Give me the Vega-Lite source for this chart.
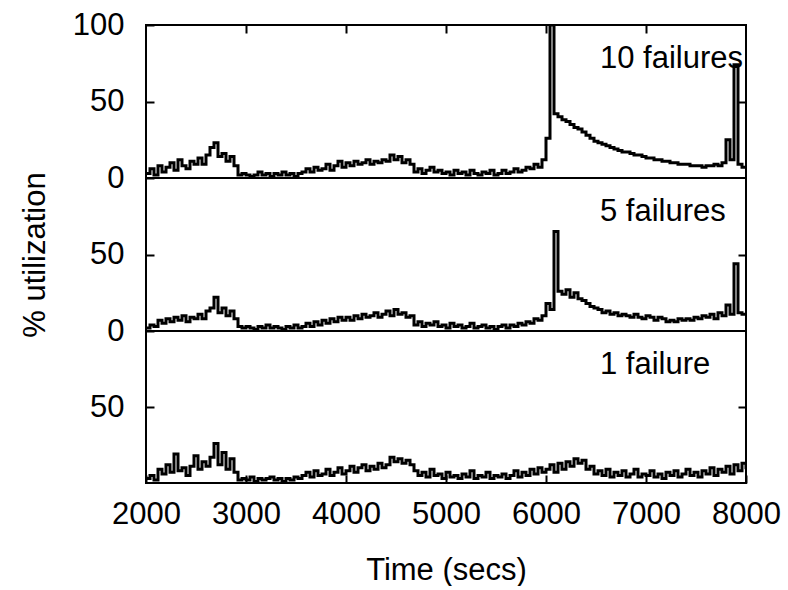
{
"$schema": "https://vega.github.io/schema/vega-lite/v6.json",
"padding": {"left": 18, "top": 8, "right": 0, "bottom": 0},
"background": "white",
"spacing": 0,
"bounds": "flush",
"datasets": {
"f10": [
{"t":2000,"u":3},{"t":2040,"u":6},{"t":2080,"u":2},{"t":2120,"u":8},{"t":2160,"u":4},{"t":2200,"u":7},{"t":2240,"u":10},{"t":2280,"u":5},{"t":2320,"u":12},{"t":2360,"u":8},{"t":2400,"u":6},{"t":2440,"u":11},{"t":2480,"u":9},
{"t":2520,"u":13},{"t":2560,"u":9},{"t":2600,"u":15},{"t":2640,"u":20},{"t":2680,"u":23},{"t":2720,"u":14},{"t":2760,"u":16},{"t":2800,"u":11},{"t":2840,"u":14},{"t":2880,"u":8},
{"t":2920,"u":2},{"t":2960,"u":3},{"t":3000,"u":2},{"t":3040,"u":1},{"t":3080,"u":2},{"t":3120,"u":4},{"t":3160,"u":2},{"t":3200,"u":3},{"t":3240,"u":1},{"t":3280,"u":3},{"t":3320,"u":2},{"t":3360,"u":4},{"t":3400,"u":2},{"t":3440,"u":3},{"t":3480,"u":1},{"t":3520,"u":3},{"t":3560,"u":4},
{"t":3600,"u":6},{"t":3640,"u":4},{"t":3680,"u":7},{"t":3720,"u":5},{"t":3760,"u":6},{"t":3800,"u":9},{"t":3840,"u":5},{"t":3880,"u":8},{"t":3920,"u":11},{"t":3960,"u":7},
{"t":4000,"u":10},{"t":4040,"u":8},{"t":4080,"u":11},{"t":4120,"u":9},{"t":4160,"u":10},{"t":4200,"u":12},{"t":4240,"u":9},{"t":4280,"u":11},{"t":4320,"u":10},{"t":4360,"u":12},{"t":4400,"u":11},{"t":4440,"u":15},{"t":4480,"u":12},{"t":4520,"u":14},{"t":4560,"u":10},{"t":4600,"u":12},{"t":4640,"u":9},
{"t":4680,"u":4},{"t":4720,"u":6},{"t":4760,"u":3},{"t":4800,"u":5},{"t":4840,"u":7},{"t":4880,"u":4},{"t":4920,"u":5},{"t":4960,"u":3},{"t":5000,"u":4},{"t":5040,"u":2},{"t":5080,"u":5},{"t":5120,"u":3},{"t":5160,"u":4},{"t":5200,"u":2},{"t":5240,"u":5},{"t":5280,"u":3},{"t":5320,"u":2},{"t":5360,"u":4},{"t":5400,"u":3},{"t":5440,"u":5},{"t":5480,"u":2},{"t":5520,"u":3},{"t":5560,"u":5},{"t":5600,"u":3},{"t":5640,"u":4},{"t":5680,"u":6},{"t":5720,"u":4},{"t":5760,"u":5},{"t":5800,"u":7},{"t":5840,"u":6},{"t":5880,"u":9},{"t":5920,"u":7},{"t":5960,"u":12},
{"t":6000,"u":26},{"t":6040,"u":100},{"t":6080,"u":42},{"t":6120,"u":40},{"t":6160,"u":38},{"t":6200,"u":37},{"t":6240,"u":35},{"t":6280,"u":33},{"t":6320,"u":32},{"t":6360,"u":30},
{"t":6400,"u":28},{"t":6440,"u":26},{"t":6480,"u":24},{"t":6520,"u":23},{"t":6560,"u":22},{"t":6600,"u":21},{"t":6640,"u":20},{"t":6680,"u":19},{"t":6720,"u":18},{"t":6760,"u":17},
{"t":6800,"u":17},{"t":6840,"u":16},{"t":6880,"u":15},{"t":6920,"u":15},{"t":6960,"u":14},{"t":7000,"u":13},{"t":7040,"u":13},{"t":7080,"u":12},{"t":7120,"u":12},{"t":7160,"u":11},
{"t":7200,"u":11},{"t":7240,"u":10},{"t":7280,"u":10},{"t":7320,"u":9},{"t":7360,"u":9},{"t":7400,"u":9},{"t":7440,"u":8},{"t":7480,"u":8},{"t":7520,"u":8},{"t":7560,"u":7},
{"t":7600,"u":8},{"t":7640,"u":8},{"t":7680,"u":9},{"t":7720,"u":8},{"t":7760,"u":10},{"t":7800,"u":25},{"t":7840,"u":12},{"t":7880,"u":74},{"t":7920,"u":9},{"t":7960,"u":7},{"t":8000,"u":8}
],
"f5": [
{"t":2000,"u":2},{"t":2040,"u":4},{"t":2080,"u":3},{"t":2120,"u":7},{"t":2160,"u":5},{"t":2200,"u":8},{"t":2240,"u":6},{"t":2280,"u":9},{"t":2320,"u":7},{"t":2360,"u":10},{"t":2400,"u":6},{"t":2440,"u":9},{"t":2480,"u":8},
{"t":2520,"u":11},{"t":2560,"u":8},{"t":2600,"u":13},{"t":2640,"u":15},{"t":2680,"u":22},{"t":2720,"u":12},{"t":2760,"u":15},{"t":2800,"u":10},{"t":2840,"u":13},{"t":2880,"u":8},
{"t":2920,"u":3},{"t":2960,"u":2},{"t":3000,"u":3},{"t":3040,"u":2},{"t":3080,"u":1},{"t":3120,"u":3},{"t":3160,"u":2},{"t":3200,"u":4},{"t":3240,"u":2},{"t":3280,"u":3},{"t":3320,"u":2},{"t":3360,"u":1},{"t":3400,"u":3},{"t":3440,"u":2},{"t":3480,"u":4},{"t":3520,"u":2},{"t":3560,"u":3},
{"t":3600,"u":5},{"t":3640,"u":3},{"t":3680,"u":6},{"t":3720,"u":4},{"t":3760,"u":7},{"t":3800,"u":5},{"t":3840,"u":8},{"t":3880,"u":6},{"t":3920,"u":9},{"t":3960,"u":7},
{"t":4000,"u":9},{"t":4040,"u":7},{"t":4080,"u":10},{"t":4120,"u":8},{"t":4160,"u":11},{"t":4200,"u":9},{"t":4240,"u":10},{"t":4280,"u":12},{"t":4320,"u":9},{"t":4360,"u":11},{"t":4400,"u":13},{"t":4440,"u":10},{"t":4480,"u":14},{"t":4520,"u":11},{"t":4560,"u":12},{"t":4600,"u":9},{"t":4640,"u":10},
{"t":4680,"u":4},{"t":4720,"u":6},{"t":4760,"u":3},{"t":4800,"u":5},{"t":4840,"u":4},{"t":4880,"u":6},{"t":4920,"u":3},{"t":4960,"u":4},{"t":5000,"u":2},{"t":5040,"u":5},{"t":5080,"u":3},{"t":5120,"u":4},{"t":5160,"u":2},{"t":5200,"u":3},{"t":5240,"u":5},{"t":5280,"u":2},{"t":5320,"u":3},{"t":5360,"u":4},{"t":5400,"u":2},{"t":5440,"u":3},{"t":5480,"u":1},{"t":5520,"u":3},{"t":5560,"u":4},{"t":5600,"u":2},{"t":5640,"u":4},{"t":5680,"u":3},{"t":5720,"u":5},{"t":5760,"u":4},{"t":5800,"u":6},{"t":5840,"u":5},{"t":5880,"u":8},{"t":5920,"u":7},{"t":5960,"u":10},
{"t":6000,"u":18},{"t":6040,"u":14},{"t":6080,"u":65},{"t":6120,"u":26},{"t":6160,"u":24},{"t":6200,"u":27},{"t":6240,"u":22},{"t":6280,"u":25},{"t":6320,"u":21},{"t":6360,"u":20},
{"t":6400,"u":18},{"t":6440,"u":16},{"t":6480,"u":15},{"t":6520,"u":14},{"t":6560,"u":12},{"t":6600,"u":13},{"t":6640,"u":11},{"t":6680,"u":12},{"t":6720,"u":10},{"t":6760,"u":11},
{"t":6800,"u":10},{"t":6840,"u":9},{"t":6880,"u":11},{"t":6920,"u":9},{"t":6960,"u":8},{"t":7000,"u":10},{"t":7040,"u":9},{"t":7080,"u":7},{"t":7120,"u":9},{"t":7160,"u":8},
{"t":7200,"u":6},{"t":7240,"u":7},{"t":7280,"u":6},{"t":7320,"u":8},{"t":7360,"u":7},{"t":7400,"u":8},{"t":7440,"u":7},{"t":7480,"u":9},{"t":7520,"u":8},{"t":7560,"u":10},
{"t":7600,"u":9},{"t":7640,"u":11},{"t":7680,"u":8},{"t":7720,"u":12},{"t":7760,"u":10},{"t":7800,"u":17},{"t":7840,"u":11},{"t":7880,"u":44},{"t":7920,"u":12},{"t":7960,"u":11},{"t":8000,"u":12}
],
"f1": [
{"t":2000,"u":3},{"t":2040,"u":5},{"t":2080,"u":2},{"t":2120,"u":9},{"t":2160,"u":6},{"t":2200,"u":12},{"t":2240,"u":7},{"t":2280,"u":19},{"t":2320,"u":8},{"t":2360,"u":10},{"t":2400,"u":5},{"t":2440,"u":11},{"t":2480,"u":18},
{"t":2520,"u":9},{"t":2560,"u":14},{"t":2600,"u":11},{"t":2640,"u":17},{"t":2680,"u":26},{"t":2720,"u":12},{"t":2760,"u":20},{"t":2800,"u":9},{"t":2840,"u":16},{"t":2880,"u":7},
{"t":2920,"u":2},{"t":2960,"u":3},{"t":3000,"u":2},{"t":3040,"u":4},{"t":3080,"u":1},{"t":3120,"u":3},{"t":3160,"u":2},{"t":3200,"u":3},{"t":3240,"u":4},{"t":3280,"u":2},{"t":3320,"u":3},{"t":3360,"u":1},{"t":3400,"u":3},{"t":3440,"u":2},{"t":3480,"u":4},{"t":3520,"u":3},{"t":3560,"u":5},
{"t":3600,"u":7},{"t":3640,"u":4},{"t":3680,"u":8},{"t":3720,"u":5},{"t":3760,"u":6},{"t":3800,"u":9},{"t":3840,"u":5},{"t":3880,"u":7},{"t":3920,"u":10},{"t":3960,"u":6},
{"t":4000,"u":8},{"t":4040,"u":11},{"t":4080,"u":7},{"t":4120,"u":10},{"t":4160,"u":12},{"t":4200,"u":8},{"t":4240,"u":11},{"t":4280,"u":9},{"t":4320,"u":13},{"t":4360,"u":10},{"t":4400,"u":12},{"t":4440,"u":17},{"t":4480,"u":14},{"t":4520,"u":16},{"t":4560,"u":13},{"t":4600,"u":15},{"t":4640,"u":12},
{"t":4680,"u":8},{"t":4720,"u":5},{"t":4760,"u":7},{"t":4800,"u":4},{"t":4840,"u":9},{"t":4880,"u":5},{"t":4920,"u":6},{"t":4960,"u":3},{"t":5000,"u":7},{"t":5040,"u":4},{"t":5080,"u":5},{"t":5120,"u":3},{"t":5160,"u":6},{"t":5200,"u":4},{"t":5240,"u":8},{"t":5280,"u":3},{"t":5320,"u":5},{"t":5360,"u":4},{"t":5400,"u":7},{"t":5440,"u":3},{"t":5480,"u":5},{"t":5520,"u":4},{"t":5560,"u":6},{"t":5600,"u":3},{"t":5640,"u":5},{"t":5680,"u":8},{"t":5720,"u":4},{"t":5760,"u":7},{"t":5800,"u":5},{"t":5840,"u":9},{"t":5880,"u":6},{"t":5920,"u":10},{"t":5960,"u":7},
{"t":6000,"u":9},{"t":6040,"u":12},{"t":6080,"u":7},{"t":6120,"u":13},{"t":6160,"u":9},{"t":6200,"u":14},{"t":6240,"u":11},{"t":6280,"u":16},{"t":6320,"u":13},{"t":6360,"u":15},
{"t":6400,"u":9},{"t":6440,"u":11},{"t":6480,"u":6},{"t":6520,"u":8},{"t":6560,"u":5},{"t":6600,"u":9},{"t":6640,"u":4},{"t":6680,"u":7},{"t":6720,"u":5},{"t":6760,"u":8},
{"t":6800,"u":4},{"t":6840,"u":6},{"t":6880,"u":9},{"t":6920,"u":4},{"t":6960,"u":6},{"t":7000,"u":5},{"t":7040,"u":8},{"t":7080,"u":4},{"t":7120,"u":6},{"t":7160,"u":3},
{"t":7200,"u":7},{"t":7240,"u":5},{"t":7280,"u":8},{"t":7320,"u":4},{"t":7360,"u":6},{"t":7400,"u":9},{"t":7440,"u":5},{"t":7480,"u":7},{"t":7520,"u":4},{"t":7560,"u":8},
{"t":7600,"u":6},{"t":7640,"u":10},{"t":7680,"u":5},{"t":7720,"u":9},{"t":7760,"u":7},{"t":7800,"u":11},{"t":7840,"u":6},{"t":7880,"u":12},{"t":7920,"u":8},{"t":7960,"u":13},{"t":8000,"u":9}
]
},
"vconcat": [
{
"width": 600, "height": 153,
"layer": [
{"data": {"name": "f10"},
 "mark": {"type": "line", "interpolate": "step-after", "color": "black", "strokeWidth": 3, "clip": true},
 "encoding": {
  "x": {"field": "t", "type": "quantitative", "scale": {"domain": [2000, 8000], "nice": false, "zero": false},
        "axis": {"orient": "top", "values": [3000, 4000, 5000, 6000, 7000], "labels": false, "title": null}},
  "y": {"field": "u", "type": "quantitative", "scale": {"domain": [0, 100], "nice": false},
        "axis": {"values": [0, 50, 100], "title": null, "labelPadding": 30}}
 }},
{"data": {"values": [{}]},
 "mark": {"type": "text", "text": "10 failures", "align": "left", "baseline": "alphabetic", "fontSize": 31, "font": "Liberation Sans", "color": "black"},
 "encoding": {
  "x": {"datum": 6540, "type": "quantitative", "scale": {"domain": [2000, 8000], "nice": false, "zero": false}, "axis": null},
  "y": {"datum": 72, "type": "quantitative", "scale": {"domain": [0, 100], "nice": false},
        "axis": {"orient": "right", "values": [50], "labels": false, "title": null}}
 }}
],
"resolve": {"axis": {"x": "independent", "y": "independent"}}
},
{
"width": 600, "height": 153,
"layer": [
{"data": {"name": "f5"},
 "mark": {"type": "line", "interpolate": "step-after", "color": "black", "strokeWidth": 3, "clip": true},
 "encoding": {
  "x": {"field": "t", "type": "quantitative", "scale": {"domain": [2000, 8000], "nice": false, "zero": false}, "axis": null},
  "y": {"field": "u", "type": "quantitative", "scale": {"domain": [0, 100], "nice": false},
        "axis": {"values": [0, 50], "title": "% utilization", "labelPadding": 30, "titlePadding": 38}}
 }},
{"data": {"values": [{}]},
 "mark": {"type": "text", "text": "5 failures", "align": "left", "baseline": "alphabetic", "fontSize": 31, "font": "Liberation Sans", "color": "black"},
 "encoding": {
  "x": {"datum": 6540, "type": "quantitative", "scale": {"domain": [2000, 8000], "nice": false, "zero": false}, "axis": null},
  "y": {"datum": 72, "type": "quantitative", "scale": {"domain": [0, 100], "nice": false},
        "axis": {"orient": "right", "values": [50], "labels": false, "title": null}}
 }}
],
"resolve": {"axis": {"x": "independent", "y": "independent"}}
},
{
"width": 600, "height": 152,
"layer": [
{"data": {"name": "f1"},
 "mark": {"type": "line", "interpolate": "step-after", "color": "black", "strokeWidth": 3, "clip": true},
 "encoding": {
  "x": {"field": "t", "type": "quantitative", "scale": {"domain": [2000, 8000], "nice": false, "zero": false},
        "axis": {"values": [2000, 3000, 4000, 5000, 6000, 7000, 8000], "format": "d", "labelOverlap": false, "labelFlush": false, "title": "Time (secs)", "labelPadding": 24, "titlePadding": 26}},
  "y": {"field": "u", "type": "quantitative", "scale": {"domain": [0, 100], "nice": false},
        "axis": {"values": [50], "title": null, "labelPadding": 30}}
 }},
{"data": {"values": [{}]},
 "mark": {"type": "text", "text": "1 failure", "align": "left", "baseline": "alphabetic", "fontSize": 31, "font": "Liberation Sans", "color": "black"},
 "encoding": {
  "x": {"datum": 6540, "type": "quantitative", "scale": {"domain": [2000, 8000], "nice": false, "zero": false}, "axis": null},
  "y": {"datum": 72, "type": "quantitative", "scale": {"domain": [0, 100], "nice": false},
        "axis": {"orient": "right", "values": [50], "labels": false, "title": null}}
 }}
],
"resolve": {"axis": {"x": "independent", "y": "independent"}}
}
],
"config": {
 "font": "Liberation Sans",
 "view": {"stroke": "black", "strokeWidth": 2},
 "axis": {"grid": false, "domain": false, "tickColor": "black", "tickWidth": 2, "tickSize": -8,
          "labelFontSize": 31, "labelColor": "black", "labelFont": "Liberation Sans",
          "titleFontSize": 31, "titleColor": "black", "titleFontWeight": "normal", "titleFont": "Liberation Sans"}
}
}
